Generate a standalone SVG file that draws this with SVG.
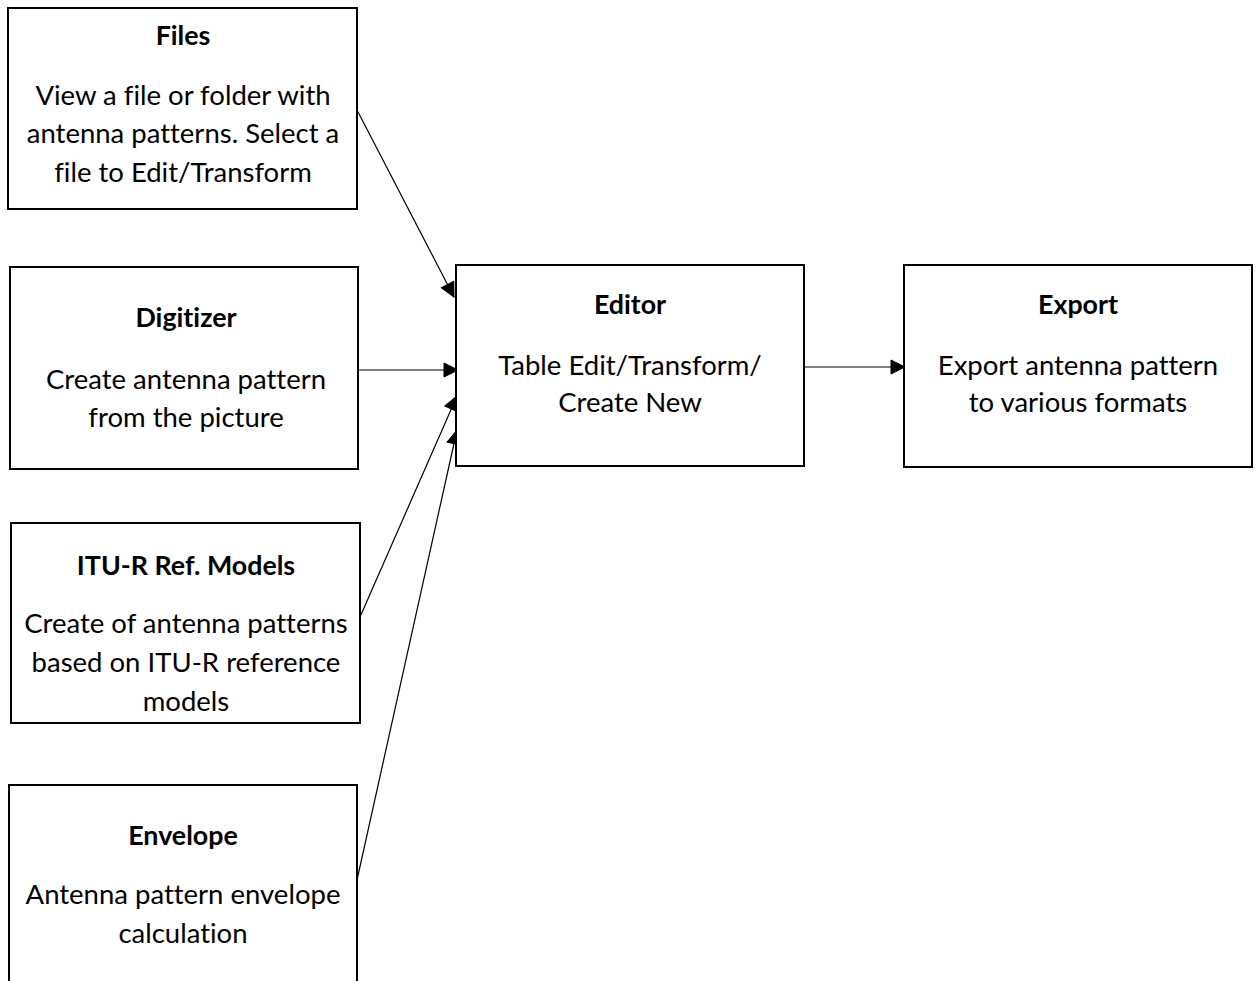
<svg xmlns="http://www.w3.org/2000/svg" width="1259" height="981" viewBox="0 0 1259 981">
<style>
.box{fill:#fff;stroke:#000;stroke-width:2}
.t{font-family:Lato,"Open Sans",sans-serif;font-size:27.5px;fill:#000;text-anchor:middle;font-variant-ligatures:none}
.b{font-weight:bold;font-size:26.8px}
.c{stroke:#000;stroke-width:1.2;fill:none;marker-end:url(#ah)}
</style>
<defs>
<marker id="ah" markerUnits="userSpaceOnUse" markerWidth="18" markerHeight="18" refX="15" refY="8" orient="auto" overflow="visible">
<path d="M1,1 L15,8 L1,15 Z" fill="#000" stroke="#000" stroke-width="1" stroke-linejoin="miter"/>
</marker>
</defs>
<rect width="1259" height="981" fill="#fff"/>
<g id="connectors">
<line class="c" x1="357" y1="110" x2="454" y2="297"/>
<line class="c" x1="358" y1="370" x2="458" y2="370"/>
<line class="c" x1="360" y1="617" x2="457" y2="396"/>
<line class="c" x1="357" y1="880" x2="457" y2="430"/>
<line class="c" x1="805" y1="367" x2="905" y2="367"/>
</g>
<g id="files">
<rect class="box" x="8" y="8" width="349" height="201"/>
<text class="t b" x="183" y="45">Files</text>
<text class="t" x="183" y="105">View a file or folder with</text>
<text class="t" x="183" y="143">antenna patterns. Select a</text>
<text class="t" x="183" y="182">file to Edit/Transform</text>
</g>
<g id="digitizer">
<rect class="box" x="10" y="267" width="348" height="202"/>
<text class="t b" x="186" y="327">Digitizer</text>
<text class="t" x="186" y="389">Create antenna pattern</text>
<text class="t" x="186" y="427">from the picture</text>
</g>
<g id="itu">
<rect class="box" x="11" y="523" width="349" height="200"/>
<text class="t b" x="186" y="575">ITU-R Ref. Models</text>
<text class="t" x="186" y="633">Create of antenna patterns</text>
<text class="t" x="186" y="672">based on ITU-R reference</text>
<text class="t" x="186" y="711">models</text>
</g>
<g id="envelope">
<rect class="box" x="9" y="785" width="348" height="220"/>
<text class="t b" x="183" y="845">Envelope</text>
<text class="t" x="183" y="904">Antenna pattern envelope</text>
<text class="t" x="183" y="943">calculation</text>
</g>
<g id="editor">
<rect class="box" x="456" y="265" width="348" height="201"/>
<text class="t b" x="630" y="314">Editor</text>
<text class="t" x="630" y="375">Table Edit/Transform/</text>
<text class="t" x="630" y="412">Create New</text>
</g>
<g id="export">
<rect class="box" x="904" y="265" width="348" height="202"/>
<text class="t b" x="1078" y="314">Export</text>
<text class="t" x="1078" y="375">Export antenna pattern</text>
<text class="t" x="1078" y="412">to various formats</text>
</g>
</svg>
